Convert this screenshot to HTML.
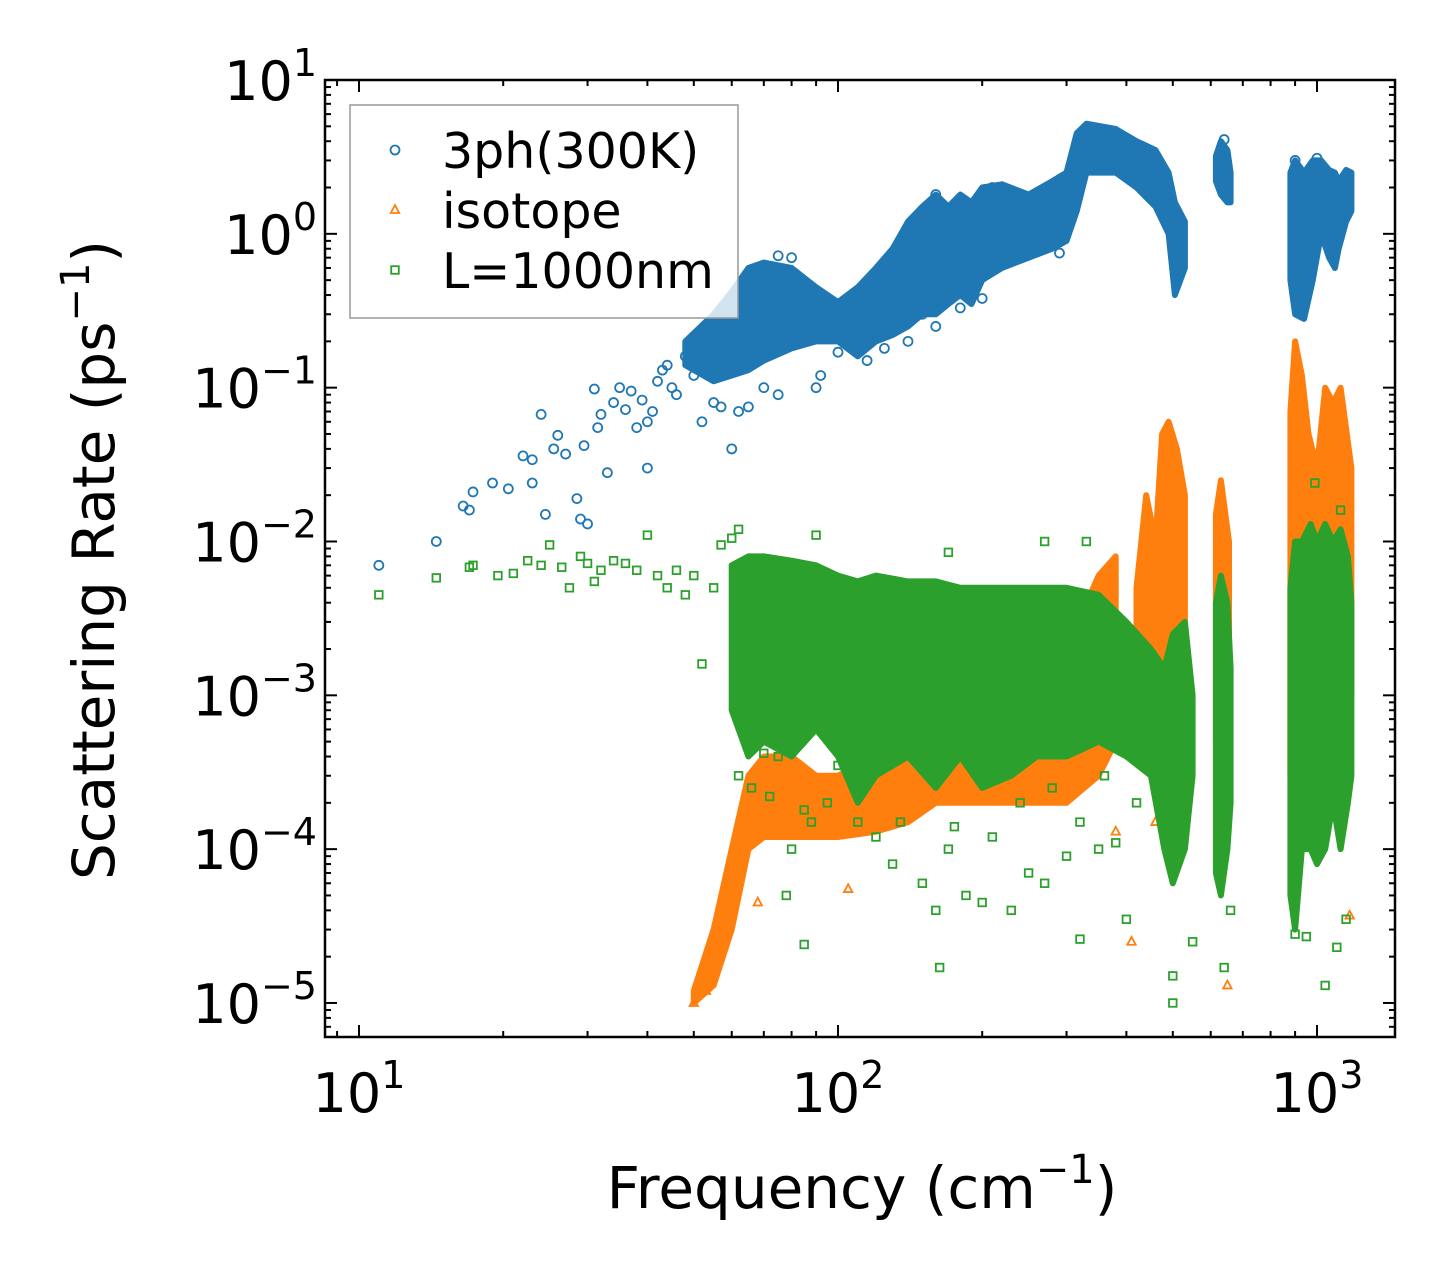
<!DOCTYPE html>
<html><head><meta charset="utf-8"><style>
html,body{margin:0;padding:0;background:#fff}
svg{display:block;font-family:"DejaVu Sans","Liberation Sans",sans-serif}
</style></head><body>
<svg id="chart" width="1455" height="1286" viewBox="0 0 1455 1286" xmlns="http://www.w3.org/2000/svg" style="position:absolute;left:0;top:0">
<g id="marks"></g>
<g id="axes"></g>
</svg>
<script>
// ---- data ----
const xTickValues = [10, 100, 1000];
const xTickExps = ["1", "2", "3"];
const yTickValues = [10, 1, 0.1, 0.01, 0.001, 0.0001, 0.00001];
const yTickExps = ["1", "0", "−1", "−2", "−3", "−4", "−5"];

const blueSparse = [[11,0.007],[14.5,0.01],[16.5,0.017],[17,0.016],[17.3,0.021],[19,0.024],[20.5,0.022],[22,0.036],[23,0.034],[23,0.024],[24,0.067],[24.5,0.015],[25.5,0.04],[26,0.049],[27,0.037],[28.5,0.019],[29,0.014],[29.5,0.042],[30,0.013],[31,0.098],[31.5,0.055],[32,0.067],[33,0.028],[34,0.08],[35,0.1],[36,0.072],[37,0.095],[38,0.055],[39,0.083],[40,0.03],[40,0.06],[41,0.07],[42,0.11],[43,0.13],[44,0.14],[45,0.1],[46,0.09],[48,0.16],[50,0.12],[52,0.06],[55,0.08],[57,0.075],[60,0.04],[62,0.07],[65,0.075],[70,0.1],[75,0.09],[90,0.1],[92,0.12],[100,0.17],[105,0.2],[115,0.15],[125,0.18],[140,0.2],[160,0.25],[150,0.3],[180,0.33],[200,0.38],[260,0.9],[290,0.75],[300,1.9],[80,0.7],[75,0.72],[160,1.8],[210,2.0],[640,4.1],[1000,3.1],[900,3.0]];
const blueBands = [
 [[48,0.14,0.2],[55,0.11,0.3],[60,0.12,0.42],[65,0.13,0.6],[70,0.15,0.65],[80,0.18,0.6],[90,0.2,0.45],[100,0.2,0.36],[110,0.16,0.45],[120,0.2,0.6],[130,0.22,0.8],[140,0.25,1.2],[150,0.3,1.5],[160,0.3,1.8],[170,0.35,1.5],[180,0.4,1.8],[190,0.35,1.6],[200,0.5,2.0],[220,0.6,2.1],[250,0.7,1.8],[280,0.8,2.2],[300,0.9,2.5],[315,1.4,4.5],[330,2.5,5.2],[380,2.5,4.8],[420,2,4],[460,1.5,3.5],[490,1.0,2.5],[505,0.4,1.6],[530,0.6,1.2]],
 [[615,2.2,3.2],[630,1.8,4],[650,1.6,3.5],[660,1.6,2.5]],
 [[880,0.5,2.5],[900,0.3,3],[940,0.28,2.5],[980,0.5,3],[1020,1.0,3],[1060,0.7,2.6],[1090,0.6,2.5],[1110,0.8,2.2],[1150,1.2,2.6],[1180,1.4,2.5]]
];
const orangeSparse = [[50,0.00001],[53,0.000012],[56,0.00002],[68,0.000045],[105,0.000055],[380,0.00013],[410,0.000025],[650,0.000013],[1170,0.000037],[460,0.00015]];
const orangeBands = [
 [[50,0.00001,0.000012],[55,0.000013,0.00003],[60,0.00003,0.0001],[65,0.0001,0.0003],[70,0.00012,0.0004],[80,0.00012,0.0004],[90,0.00012,0.0003],[100,0.00012,0.0003],[120,0.00013,0.0004],[140,0.00015,0.0004],[160,0.0002,0.0006],[200,0.0002,0.0008],[250,0.0002,0.001],[300,0.0002,0.002],[350,0.0003,0.006],[380,0.0005,0.008]],
 [[420,0.0005,0.005],[440,0.0006,0.02],[460,0.0005,0.01],[475,0.001,0.05],[490,0.001,0.06],[510,0.001,0.04],[530,0.0005,0.02]],
 [[615,0.0005,0.015],[630,0.0005,0.025],[655,0.0005,0.01]],
 [[880,0.0003,0.07],[900,0.0005,0.2],[930,0.0005,0.12],[960,0.001,0.05],[1000,0.0005,0.03],[1040,0.0005,0.1],[1080,0.0005,0.08],[1120,0.001,0.1],[1180,0.001,0.03]]
];
const greenSparse = [[11,0.0045],[14.5,0.0058],[17,0.0068],[17.3,0.007],[19.5,0.006],[21,0.0062],[22.5,0.0075],[24,0.007],[25,0.0095],[26.5,0.0068],[27.5,0.005],[29,0.008],[30,0.0072],[31,0.0055],[32,0.0065],[34,0.0075],[36,0.0072],[38,0.0065],[40,0.011],[42,0.006],[44,0.005],[46,0.0065],[48,0.0045],[50,0.006],[52,0.0016],[55,0.005],[57,0.0095],[60,0.0105],[62,0.012],[65,0.0023],[68,0.0045],[70,0.00042],[75,0.0004],[78,0.00005],[80,0.0001],[85,0.000024],[88,0.00015],[90,0.011],[95,0.0002],[110,0.00015],[130,0.00008],[150,0.00006],[160,0.00004],[163,0.000017],[170,0.0001],[185,0.00005],[200,0.000045],[230,0.00004],[250,0.00007],[270,0.00006],[300,0.00009],[320,0.000026],[350,0.0001],[380,0.00011],[400,0.000035],[500,0.00001],[500,0.000015],[550,0.000025],[640,0.000017],[660,0.00004],[900,0.000028],[950,0.000027],[1040,0.000013],[1100,0.000023],[1150,0.000035],[270,0.01],[330,0.01],[990,0.024],[1120,0.016],[170,0.0085],[62,0.0003],[66,0.00025],[72,0.00022],[85,0.00018],[100,0.00035],[120,0.00012],[135,0.00015],[175,0.00014],[210,0.00012],[240,0.0002],[280,0.00025],[320,0.00015],[360,0.0003],[420,0.0002]];
const greenBands = [
 [[60,0.0008,0.007],[65,0.0004,0.008],[70,0.0005,0.008],[80,0.0004,0.0075],[90,0.0006,0.007],[100,0.0004,0.006],[110,0.0002,0.0055],[120,0.0003,0.006],[140,0.0004,0.0055],[160,0.00025,0.0055],[180,0.0004,0.005],[200,0.00025,0.005],[230,0.0003,0.005],[260,0.0004,0.005],[300,0.0004,0.005],[350,0.0005,0.0045],[400,0.0004,0.003],[450,0.0003,0.002],[480,0.0001,0.0015],[500,0.00006,0.0025],[530,0.0001,0.003],[550,0.0003,0.001]],
 [[615,0.00007,0.004],[630,0.00005,0.006],[650,0.0001,0.004],[660,0.0002,0.0015]],
 [[880,0.00005,0.005],[900,0.00003,0.01],[930,0.0001,0.01],[970,0.0001,0.013],[1000,0.00008,0.01],[1040,0.0001,0.013],[1080,0.0002,0.01],[1120,0.0001,0.012],[1160,0.0002,0.008],[1180,0.0003,0.004]]
];

// ---- scales ----
const X0 = 325, X1 = 1395, Y0 = 80, Y1 = 1037;
const xMin = 1 - 34/479, xMax = 3 + 78/479;
const yMin = -5 - 34/153.7, yMax = 1;
function sx(v){ return X0 + (Math.log10(v) - xMin) / (xMax - xMin) * (X1 - X0); }
function sy(v){ return Y1 - (Math.log10(v) - yMin) / (yMax - yMin) * (Y1 - Y0); }

const NS = "http://www.w3.org/2000/svg";
const marks = document.getElementById('marks');
const axes = document.getElementById('axes');
function mk(tag, attrs, parent){ const e = document.createElementNS(NS, tag); for (const k in attrs) e.setAttribute(k, attrs[k]); parent.appendChild(e); return e; }

const colors = {blue:"#1f77b4", orange:"#ff7f0e", green:"#2ca02c"};
function band(seg, color, name){
  let d = "M" + seg.map(p => sx(p[0]).toFixed(1) + "," + sy(p[2]).toFixed(1)).join("L");
  d += "L" + seg.slice().reverse().map(p => sx(p[0]).toFixed(1) + "," + sy(p[1]).toFixed(1)).join("L") + "Z";
  const e = mk('path', {d: d, fill: color, stroke: color, 'stroke-width': 6, 'stroke-linejoin': 'round'}, marks);
  
  
}
function marker(type, x, y, color, parent){
  let e;
  if (type === 'circle') e = mk('circle', {cx: x, cy: y, r: 4.5, fill: 'none', stroke: color, 'stroke-width': 1.8}, parent);
  else if (type === 'tri') e = mk('path', {d: `M${x},${y-4.8}L${x+4.2},${y+3}L${x-4.2},${y+3}Z`, fill: 'none', stroke: color, 'stroke-width': 1.8}, parent);
  else e = mk('rect', {x: x-3.8, y: y-3.8, width: 7.6, height: 7.6, fill: 'none', stroke: color, 'stroke-width': 1.8}, parent);
  return e;
}
function series(bands, pts, type, color, key){
  bands.forEach(seg => band(seg, color, key + '-dense-band'));
  pts.forEach(p => {
    const e = marker(type, sx(p[0]), sy(p[1]), color, marks);
    
    
  });
}
series(blueBands, blueSparse, 'circle', colors.blue, '3ph');
series(orangeBands, orangeSparse, 'tri', colors.orange, 'isotope');
series(greenBands, greenSparse, 'sq', colors.green, 'boundary');

// ---- frame & ticks ----
const frame = mk('rect', {x: X0, y: Y0, width: X1-X0, height: Y1-Y0, fill: 'none', stroke: '#000', 'stroke-width': 2.5}, axes);


function tick(x1,y1,x2,y2){ mk('line', {x1,y1,x2,y2,stroke:'#000','stroke-width':2}, axes); }
for (let d = 0; d <= 3; d++) for (let m = 1; m <= 9; m++) {
  const v = m * Math.pow(10, d); const lv = Math.log10(v);
  if (lv < xMin || lv > xMax) continue;
  const x = sx(v), L = m === 1 ? 12 : 6;
  tick(x, Y1, x, Y1-L); tick(x, Y0, x, Y0+L);
}
for (let d = -6; d <= 1; d++) for (let m = 1; m <= 9; m++) {
  const v = m * Math.pow(10, d); const lv = Math.log10(v);
  if (lv < yMin || lv > yMax + 1e-9) continue;
  const y = sy(v), L = m === 1 ? 12 : 6;
  tick(X0, y, X0+L, y); tick(X1, y, X1-L, y);
}
function powLabel(x, y, exp, anchor, name){
  const t = mk('text', {x: x, y: y, 'font-size': 54, 'text-anchor': anchor, fill: '#000'}, axes);
  
  
  const a = document.createElementNS(NS, 'tspan'); a.textContent = '10'; t.appendChild(a);
  const b = document.createElementNS(NS, 'tspan'); b.setAttribute('dy', -24); b.setAttribute('font-size', 38); b.textContent = exp; t.appendChild(b);
}
xTickValues.forEach((v, i) => powLabel(sx(v) + 0, 1112, xTickExps[i], 'middle', 'x-tick-label'));
yTickValues.forEach((v, i) => powLabel(X0 - 8, sy(v) + 20, yTickExps[i], 'end', 'y-tick-label'));
</script>
<svg style="position:absolute;left:0;top:0" width="1455" height="1286">
<text x="862" y="1208" font-size="58" text-anchor="middle" font-family="DejaVu Sans, sans-serif">Frequency (cm<tspan dy="-25" font-size="40">−1</tspan><tspan dy="25">)</tspan></text>
<text transform="translate(114,560) rotate(-90)" font-size="58" text-anchor="middle" font-family="DejaVu Sans, sans-serif">Scattering Rate (ps<tspan dy="-25" font-size="40">−1</tspan><tspan dy="25">)</tspan></text>
<g font-family="DejaVu Sans, sans-serif" font-size="49">
<rect x="350" y="105" width="388" height="213" fill="#fff" fill-opacity="0.8" stroke="#999" stroke-width="1.5"/>
<g><circle cx="395" cy="150" r="4.5" fill="none" stroke="#1f77b4" stroke-width="1.8"/><text x="442" y="168">3ph(300K)</text></g>
<g><path d="M395,205.2L399.2,213L390.8,213Z" fill="none" stroke="#ff7f0e" stroke-width="1.8"/><text x="442" y="228">isotope</text></g>
<g><rect x="391.2" y="266.2" width="7.6" height="7.6" fill="none" stroke="#2ca02c" stroke-width="1.8"/><text x="442" y="288">L=1000nm</text></g>
</g>
</svg>
</body></html>
